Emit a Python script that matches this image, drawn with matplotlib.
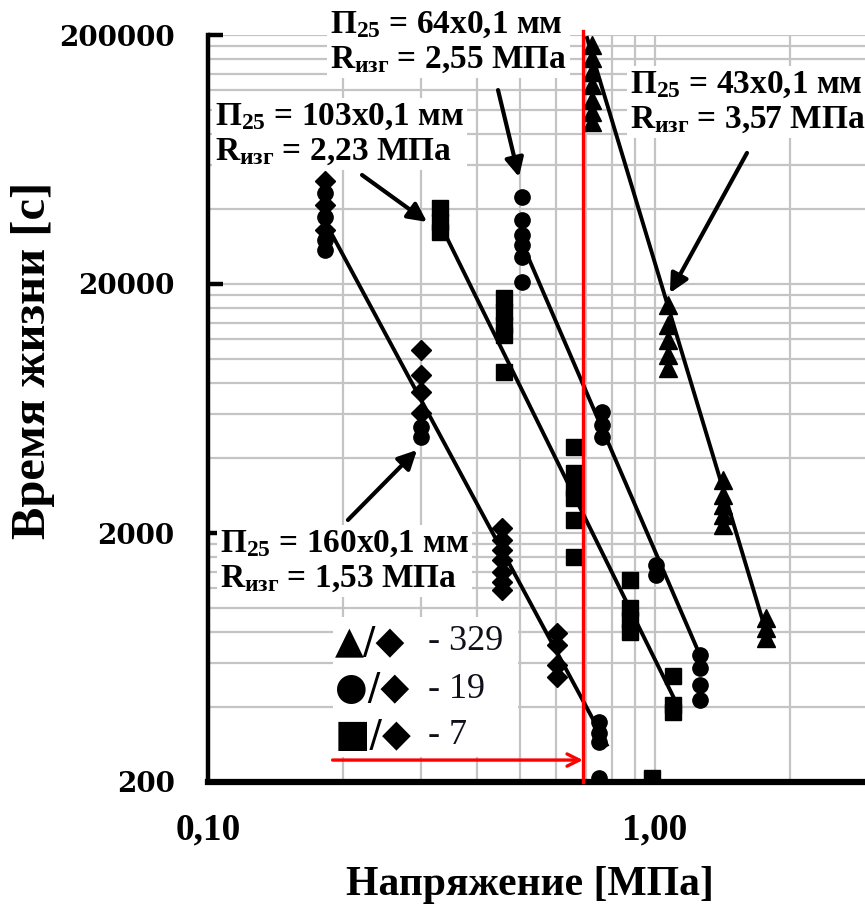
import matplotlib
matplotlib.use('Agg')
import matplotlib.pyplot as plt
from matplotlib.ticker import FixedLocator, FixedFormatter, NullFormatter
from matplotlib.patches import Rectangle

plt.rcParams['mathtext.fontset'] = 'custom'
plt.rcParams['mathtext.rm'] = 'Liberation Serif:bold'
plt.rcParams['mathtext.it'] = 'Liberation Serif:bold'
plt.rcParams['mathtext.bf'] = 'Liberation Serif:bold'
plt.rcParams['font.family'] = ['Liberation Serif', 'DejaVu Sans']

# ---------------- data ----------------
# diamonds (sample 160x0,1 mm)
diam_x = [0.183, 0.183, 0.183, 0.30, 0.30, 0.30, 0.30,
          0.455, 0.455, 0.455, 0.455, 0.455, 0.455, 0.455,
          0.604, 0.604, 0.604, 0.604]
diam_y = [51800, 41500, 33000, 10900, 8620, 7370, 6070,
          2090, 1870, 1710, 1560, 1390, 1270, 1180,
          793, 710, 590, 528]
# circles
circ_x = [0.183, 0.183, 0.183, 0.183, 0.30, 0.30,
          0.504, 0.504, 0.504, 0.504, 0.504, 0.504,
          0.76, 0.76, 0.76, 1.005, 1.005,
          1.26, 1.26, 1.26, 1.26,
          0.75, 0.75, 0.75, 0.75]
circ_y = [46400, 37200, 30000, 27400, 5330, 4860,
          44700, 36100, 31500, 28700, 25700, 20400,
          6120, 5430, 4860, 1490, 1360,
          647, 574, 491, 427,
          348, 315, 289, 208]
# squares
sq_x = [0.33, 0.33, 0.33, 0.46, 0.46, 0.46, 0.46, 0.46,
        0.659, 0.659, 0.659, 0.659, 0.659, 0.659,
        0.879, 0.879, 0.879, 0.879, 1.097, 1.097, 1.097, 0.985]
sq_y = [40400, 35500, 32400, 17600, 15400, 13700, 12500, 8870,
        4430, 3480, 3030, 2760, 2260, 1600,
        1290, 1000, 895, 800, 533, 408, 382, 208]
# triangles
tri_x = [0.723] * 7 + [1.07] * 5 + [1.42] * 5 + [1.77] * 3
tri_y = [182400, 161800, 142000, 126000, 109600, 98200, 89500,
         16500, 13700, 11900, 10400, 9200,
         3270, 2840, 2590, 2360, 2150,
         912, 831, 757]

# trend lines (end points)
trend_160_x = [0.188, 0.78]
trend_160_y = [32400, 282]
trend_103_x = [0.3425, 1.108]
trend_103_y = [30600, 427]
trend_64_x = [0.512, 1.28]
trend_64_y = [27400, 606]
trend_43_x = [0.705, 1.762]
trend_43_y = [194400, 831]

red_x = 0.69
red_arrow_x = [0.19, 0.69]
red_arrow_y = 245

y_ticks = [200, 2000, 20000, 200000]
y_ticklabels = ['200', '2000', '20000', '200000']
x_ticks = [0.1, 1.0]
x_ticklabels = ['0,10', '1,00']

legend_symbols = ['▲/◆', '●/◆', '■/◆']
legend_numbers = ['- 329', '- 19', '- 7']

# ---------------- figure ----------------
W, H = 865, 910
fig = plt.figure(figsize=(W / 100, H / 100), dpi=100)
ax = fig.add_axes([208 / W, (H - 782) / H, (W - 208) / W, (782 - 35) / H])
ax.set_xscale('log')
ax.set_yscale('log')
ax.set_xlim(0.1, 2.95)
ax.set_ylim(200, 200000)

ax.xaxis.set_major_locator(FixedLocator(x_ticks))
ax.xaxis.set_major_formatter(FixedFormatter(x_ticklabels))
ax.xaxis.set_minor_locator(FixedLocator([0.2, 0.3, 0.4, 0.5, 0.6, 0.7, 0.8, 0.9, 2.0]))
ax.xaxis.set_minor_formatter(NullFormatter())
ax.yaxis.set_major_locator(FixedLocator(y_ticks))
ax.yaxis.set_major_formatter(FixedFormatter(y_ticklabels))
ymin = [m * k for m in (200, 2000, 20000) for k in range(2, 10)]
ax.yaxis.set_minor_locator(FixedLocator(ymin))
ax.yaxis.set_minor_formatter(NullFormatter())

ax.grid(which='both', color='#c4c4c4', lw=1.6, zorder=0)
ax.set_axisbelow(True)
for s in ('top', 'right'):
    ax.spines[s].set_visible(False)
ax.spines['left'].set_linewidth(3.2)
ax.spines['bottom'].set_linewidth(4.5)
ax.tick_params(axis='y', which='major', direction='in', length=11, width=3.2,
               pad=24, labelsize=20)
ax.tick_params(axis='x', which='major', direction='in', length=0, pad=22, labelsize=27)
ax.tick_params(which='minor', length=0)
for lab in ax.get_yticklabels():
    lab.set_fontfamily('DejaVu Serif')
    lab.set_fontweight('bold')
for lab in ax.get_xticklabels():
    lab.set_fontweight('bold')

# trend lines
for tx, ty in ((trend_160_x, trend_160_y), (trend_103_x, trend_103_y),
               (trend_64_x, trend_64_y), (trend_43_x, trend_43_y)):
    ax.plot(tx, ty, color='black', lw=2.8, zorder=3)

ms = 11
ax.plot(diam_x, diam_y, 'D', color='black', ms=10, ls='none', zorder=4)
ax.plot(circ_x, circ_y, 'o', color='black', ms=ms, ls='none', zorder=4)
ax.plot(sq_x, sq_y, 's', color='black', ms=ms, ls='none', zorder=4)
ax.plot(tri_x, tri_y, '^', color='black', ms=13, ls='none', zorder=4)

# red marker line and arrow
ax.plot([red_x, red_x], [200, 208000], color='red', lw=2.4, zorder=5, clip_on=False)
ax.annotate('', xy=(red_arrow_x[1], red_arrow_y), xytext=(red_arrow_x[0], red_arrow_y),
            arrowprops=dict(arrowstyle='->', color='red', lw=2.4, mutation_scale=22,
                            shrinkA=0, shrinkB=0), zorder=5)

# annotation texts
tkw = dict(fontsize=24, fontweight='bold', ha='left', va='center', linespacing=1.15,
           bbox=dict(fc='white', ec='none', pad=2), zorder=6)
fig.text(330 / W, 1 - 42 / H, 'П$_{25}$ = 64x0,1 мм\nR$_{изг}$ = 2,55 МПа', **tkw)
fig.text(215 / W, 1 - 134 / H, 'П$_{25}$ = 103x0,1 мм\nR$_{изг}$ = 2,23 МПа', **tkw)
fig.text(630 / W, 1 - 102 / H, 'П$_{25}$ = 43x0,1 мм\nR$_{изг}$ = 3,57 МПа', **tkw)
fig.text(220 / W, 1 - 561 / H, 'П$_{25}$ = 160x0,1 мм\nR$_{изг}$ = 1,53 МПа', **tkw)

akw = dict(arrowstyle='-|>', color='black', lw=3, mutation_scale=28, shrinkA=0, shrinkB=0)
ax.annotate('', xy=(0.4963, 53800), xytext=(0.4455, 120200), arrowprops=akw, zorder=7)
ax.annotate('', xy=(0.309, 35500), xytext=(0.2211, 54800), arrowprops=akw, zorder=7)
ax.annotate('', xy=(1.080, 18400), xytext=(1.606, 67200), arrowprops=akw, zorder=7)
ax.annotate('', xy=(0.2935, 4310), xytext=(0.2056, 2256), arrowprops=akw, zorder=7)

# legend-like text block: white background, symbols and numbers
fig.patches.append(Rectangle((333 / W, 1 - 757 / H), 185 / W, 140 / H,
                             transform=fig.transFigure, fc='white', ec='none', zorder=5))
for i, (sym, num) in enumerate(zip(legend_symbols, legend_numbers)):
    yy = 1 - (642 + 47 * i) / H
    fig.text(335 / W, yy, sym, fontsize=27, ha='left', va='center', color='black',
             family=['DejaVu Sans'], zorder=6)
    fig.text(428 / W, yy, num, fontsize=26, ha='left', va='center', color='#10101a',
             family=['Liberation Serif'], zorder=6)

# axis labels
fig.text(33 / W, 1 - 360 / H, 'Время жизни [с]', rotation=90, ha='center', va='center',
         fontsize=35, fontweight='bold')
fig.text(530 / W, 1 - 885 / H, 'Напряжение [МПа]', ha='center', va='center',
         fontsize=30, fontweight='bold')

fig.savefig('out.png', dpi=100)
